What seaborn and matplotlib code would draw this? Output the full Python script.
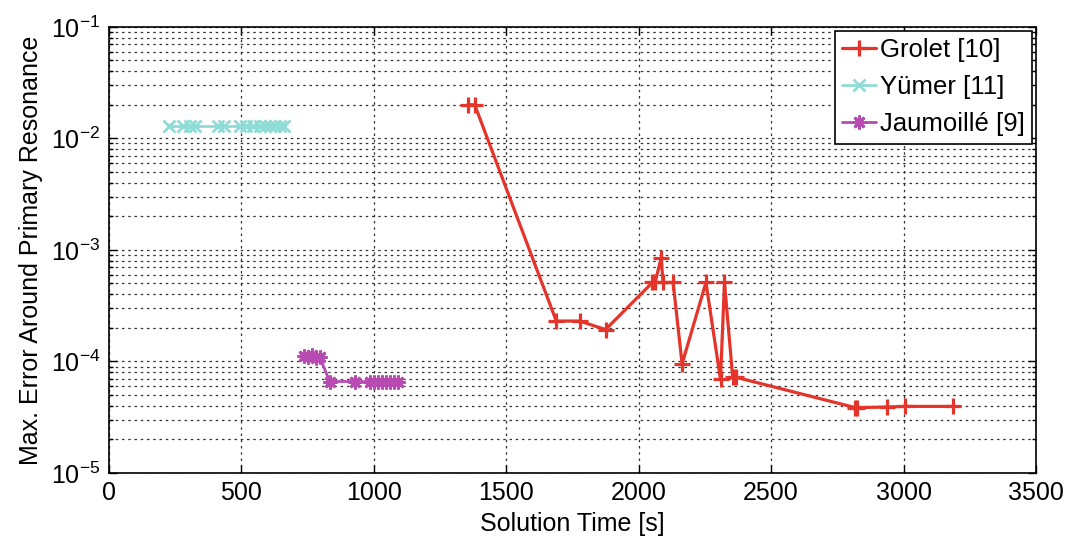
import numpy as np
import pandas as pd
import matplotlib
matplotlib.use('Agg')
import matplotlib.pyplot as plt
import seaborn as sns
from matplotlib.ticker import LogLocator, MultipleLocator, NullFormatter

# values
grolet_t = [1354, 1381, 1689, 1777, 1875, 2052, 2062, 2085, 2092, 2130, 2164,
            2254, 2309, 2324, 2355, 2368, 2818, 2826, 2938, 3006, 3187]
grolet_err = [2.0e-2, 2.0e-2, 2.3e-4, 2.3e-4, 1.93e-4, 5.1e-4, 5.1e-4, 8.5e-4, 5.1e-4,
              5.1e-4, 9.5e-5, 5.1e-4, 6.9e-5, 5.1e-4, 7.2e-5, 7.2e-5, 3.85e-5,
              3.85e-5, 3.9e-5, 3.95e-5, 3.95e-5]

yumer_t = [226, 280, 305, 324, 412, 434, 494, 519, 544, 570, 588, 607, 626, 645, 660]
yumer_err = [1.3e-2] * len(yumer_t)

jaum_t = [735, 750, 765, 780, 795, 834, 928, 985, 1000, 1015, 1030, 1045, 1060, 1075, 1090]
jaum_err = [1.12e-4, 1.1e-4, 1.15e-4, 1.08e-4, 1.1e-4, 6.6e-5, 6.6e-5,
            6.6e-5, 6.6e-5, 6.6e-5, 6.6e-5, 6.6e-5, 6.6e-5, 6.6e-5, 6.6e-5]

labels = ['Grolet [10]', 'Yümer [11]', 'Jaumoillé [9]']

sns.set_style('ticks')
plt.rcParams['font.family'] = ['Liberation Sans', 'DejaVu Sans']
plt.rcParams['mathtext.fontset'] = 'custom'
plt.rcParams['mathtext.rm'] = 'Liberation Sans'
plt.rcParams['text.color'] = 'black'
plt.rcParams['axes.labelcolor'] = 'black'

fig = plt.figure(figsize=(10.68, 5.48), dpi=100)
ax = fig.add_axes([0.102, 0.137, 0.868, 0.814])

grid_kw = dict(color='#333333', linestyle=(0, (2, 3)), linewidth=0.9)

sns.lineplot(x=grolet_t, y=grolet_err, ax=ax, sort=False, estimator=None,
             color='#e5342a', linewidth=2.3, marker='+', markersize=12,
             markeredgewidth=2.3, markeredgecolor='#e5342a')
sns.lineplot(x=yumer_t, y=yumer_err, ax=ax, sort=False, estimator=None,
             color='#8fdcd6', linewidth=2.0, marker='x', markersize=8,
             markeredgewidth=2.0, markeredgecolor='#8fdcd6')
sns.lineplot(x=jaum_t, y=jaum_err, ax=ax, sort=False, estimator=None,
             color='#b84bb2', linewidth=2.0, marker=(8, 2, 0), markersize=10,
             markeredgewidth=2.0, markeredgecolor='#b84bb2')

ax.set_yscale('log')
ax.set_xlim(0, 3500)
ax.set_ylim(1e-5, 1e-1)
ax.xaxis.set_major_locator(MultipleLocator(500))
ax.yaxis.set_major_locator(LogLocator(base=10, numticks=10))
ax.yaxis.set_minor_locator(LogLocator(base=10, subs=np.arange(2, 10), numticks=20))
ax.yaxis.set_minor_formatter(NullFormatter())

ax.grid(True, which='major', axis='both', **grid_kw)
ax.grid(True, which='minor', axis='y', **grid_kw)
ax.set_axisbelow(True)

ax.tick_params(which='both', direction='in', top=True, right=True, labelsize=18,
               color='black', labelcolor='black', width=1)
ax.tick_params(which='major', length=6, pad=6)
ax.tick_params(which='minor', length=3)
for sp in ax.spines.values():
    sp.set_visible(True)
    sp.set_color('black')
    sp.set_linewidth(1.2)

ax.set_xlabel('Solution Time [s]', fontsize=18, labelpad=5)
ax.set_ylabel('Max. Error Around Primary Resonance', fontsize=18, labelpad=6)

leg = ax.legend(ax.get_lines()[:3], labels, loc='upper right', fontsize=18.5,
                frameon=True, fancybox=False, edgecolor='black', framealpha=1,
                borderpad=0.3, labelspacing=0.5, handlelength=1.3,
                handletextpad=0.15, borderaxespad=0.15, numpoints=1)
leg.get_frame().set_linewidth(1.2)

fig.savefig('out.png', dpi=100)
